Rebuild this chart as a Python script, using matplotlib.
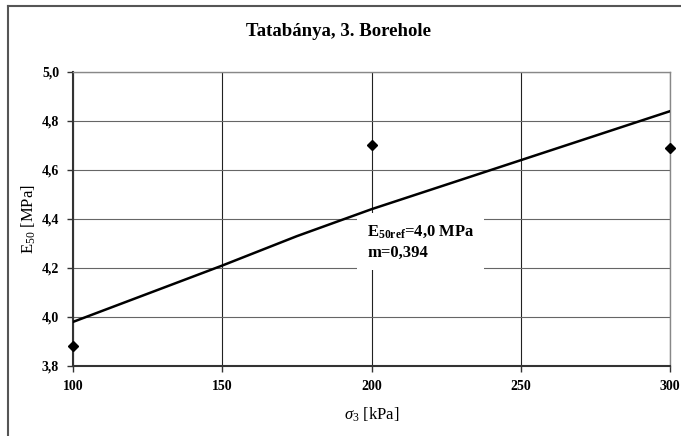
import matplotlib.pyplot as plt
from matplotlib.lines import Line2D
from matplotlib.ticker import FuncFormatter

# measured points
sigma3 = [100, 200, 300]
e50 = [3.88, 4.70, 4.69]

# fitted curve
fit_sigma3 = [100, 150, 175, 200, 250, 300]
fit_e50 = [3.98, 4.21, 4.33, 4.44, 4.64, 4.84]

x_ticks = [100, 150, 200, 250, 300]
y_ticks = [3.8, 4.0, 4.2, 4.4, 4.6, 4.8, 5.0]

plt.rcParams['font.family'] = ['Liberation Serif', 'DejaVu Serif']
plt.rcParams['mathtext.fontset'] = 'custom'
plt.rcParams['mathtext.rm'] = 'Liberation Serif'
plt.rcParams['mathtext.it'] = 'Liberation Serif:italic'
plt.rcParams['mathtext.bf'] = 'Liberation Serif:bold'

fig = plt.figure(figsize=(6.81, 4.36), dpi=100)
ax = fig.add_axes([73 / 681, 1 - 366 / 436, 597 / 681, 294 / 436])

# outer chart frame (only left and top edges visible)
fig.add_artist(Line2D([8 / 681, 8 / 681], [0, 1 - 6 / 436], transform=fig.transFigure,
                      color='#555555', lw=1.5))
fig.add_artist(Line2D([8 / 681, 1], [1 - 6 / 436, 1 - 6 / 436], transform=fig.transFigure,
                      color='#555555', lw=1.5))

ax.plot(fit_sigma3, fit_e50, color='black', lw=1.8, zorder=3)
ax.plot(sigma3, e50, linestyle='none', marker='D', color='black', markersize=5.5,
        clip_on=False, zorder=4)

ax.set_xlim(100, 300)
ax.set_ylim(3.8, 5.0)
ax.set_xticks(x_ticks)
ax.set_yticks(y_ticks)
ax.yaxis.set_major_formatter(FuncFormatter(lambda v, p: f'{v:.1f}'.replace('.', ',')))
ax.xaxis.set_major_formatter(FuncFormatter(lambda v, p: f'{v:.0f}'))

for lbl in ax.get_xticklabels() + ax.get_yticklabels():
    lbl.set_fontweight('bold')
    lbl.set_fontsize(10)

ax.tick_params(axis='both', direction='out', length=4, width=1, color='#333333', pad=6)
ax.grid(axis='x', color='#222222', lw=0.8)
ax.grid(axis='y', color='#666666', lw=0.8)

for side in ['left', 'bottom']:
    ax.spines[side].set_color('#333333')
    ax.spines[side].set_linewidth(1.5)
for side in ['top', 'right']:
    ax.spines[side].set_color('#888888')
    ax.spines[side].set_linewidth(1.0)

fig.text(0.497, 1 - 32 / 436, 'Tatabánya, 3. Borehole', fontsize=13.5, fontweight='bold',
         ha='center', va='center')
ax.set_xlabel(r'$\mathit{\sigma}_3$ [kPa]', fontsize=12, labelpad=9)
ax.set_ylabel(r'E$_{50}$ [MPa]', fontsize=12)
ax.yaxis.set_label_coords(-0.059, 0.5)

ax.text(0.4925, 0.487, r'$\mathbf{E_{50ref}}$' + '=4,0 MPa\nm=0,394', transform=ax.transAxes,
        fontsize=12, fontweight='bold', va='top', ha='left', linespacing=1.4, zorder=2.5,
        bbox=dict(facecolor='white', edgecolor='none', pad=7))

fig.savefig('out.png', dpi=100)
